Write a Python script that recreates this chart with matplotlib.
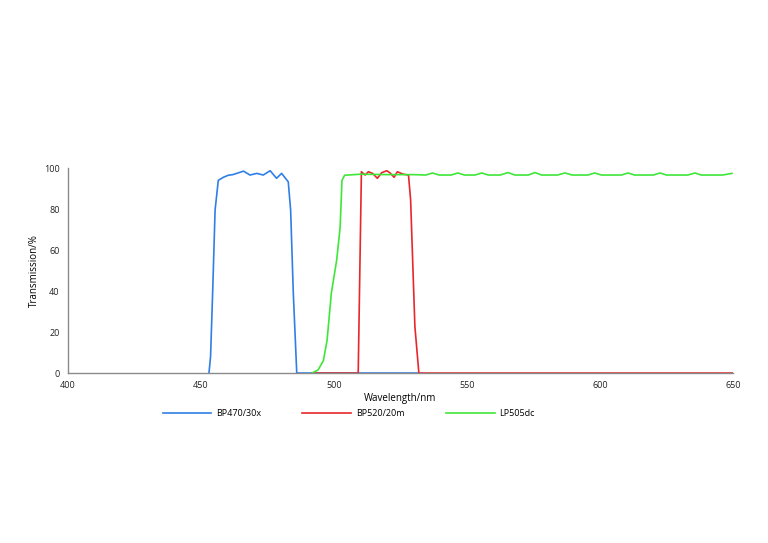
import matplotlib.pyplot as plt

plt.rcParams['font.family'] = ['Open Sans', 'DejaVu Sans']

# BP470/30x
blue_wl = [453.0, 453.6, 454.4, 455.3, 456.5, 458.4, 460.3, 462.0, 463.4, 466.0, 468.4, 471.0,
           473.4, 476.0, 478.4, 480.3, 482.8, 483.7, 484.7, 486.0, 500.0, 532.0]
blue_tr = [0.0, 8.0, 40.0, 79.5, 94.0, 95.5, 96.5, 96.8, 97.4, 98.5, 96.6, 97.4,
           96.6, 98.7, 95.0, 97.4, 93.3, 79.5, 39.0, 0.0, 0.0, 0.0]

# BP520/20m
red_wl = [492.0, 509.1, 510.3, 511.7, 512.9, 514.5, 516.3, 517.9, 519.8, 521.0, 522.6,
          523.8, 526.0, 528.0, 528.8, 530.4, 531.9, 650.0]
red_tr = [0.0, 0.0, 98.2, 96.6, 98.2, 97.4, 95.0, 97.7, 98.7, 97.7, 95.5,
          98.2, 97.0, 96.6, 84.5, 22.8, 0.0, 0.0]

# LP505dc
green_wl = [491.7, 494.0, 496.0, 497.4, 499.0, 501.0, 502.3, 503.0, 504.0, 510.0, 520.0, 530.0,
            534.5, 537.0, 539.5, 544.0, 546.6, 549.0, 553.0, 555.6, 558.0, 562.5, 565.4, 568.0,
            573.0, 575.6, 578.0, 584.0, 586.8, 589.5, 595.5, 598.0, 600.5, 608.0, 610.5, 613.0,
            620.0, 622.5, 625.0, 633.0, 635.7, 638.0, 646.0, 649.6]
green_tr = [0.0, 1.5, 6.0, 16.0, 39.0, 55.0, 71.0, 94.0, 96.5, 97.0, 96.8, 96.8,
            96.6, 97.6, 96.6, 96.6, 97.6, 96.6, 96.6, 97.6, 96.6, 96.6, 97.8, 96.6,
            96.6, 97.8, 96.6, 96.6, 97.6, 96.6, 96.6, 97.6, 96.6, 96.6, 97.6, 96.6,
            96.6, 97.6, 96.6, 96.6, 97.6, 96.6, 96.6, 97.4]

fig = plt.figure(figsize=(7.68, 5.43), dpi=100)
ax = fig.add_axes([0.0885, 0.313, 0.866, 0.3775])

ax.plot(blue_wl, blue_tr, color='#2f7fe6', lw=1.2, label='BP470/30x')
ax.plot(red_wl, red_tr, color='#e8262b', lw=1.2, label='BP520/20m')
ax.plot(green_wl, green_tr, color='#3fe63a', lw=1.2, label='LP505dc')

ax.set_xlim(400, 650)
ax.set_ylim(0, 100)
ax.set_xticks([400, 450, 500, 550, 600, 650])
ax.set_yticks([0, 20, 40, 60, 80, 100])
ax.tick_params(length=0, labelsize=6.5, colors='#222222', pad=6)
for s in ['top', 'right']:
    ax.spines[s].set_visible(False)
for s in ['left', 'bottom']:
    ax.spines[s].set_color('#8a8a8a')
    ax.spines[s].set_linewidth(1.0)

ax.set_xlabel('Wavelength/nm', fontsize=7, labelpad=2)
ax.set_ylabel('Transmission/%', fontsize=7, labelpad=3)

ax.legend(loc='upper left', bbox_to_anchor=(0.13, -0.135), ncol=3, frameon=False,
          fontsize=6.5, handlelength=5.4, handletextpad=0.5, columnspacing=4.6)

fig.savefig('out.png', dpi=100)
